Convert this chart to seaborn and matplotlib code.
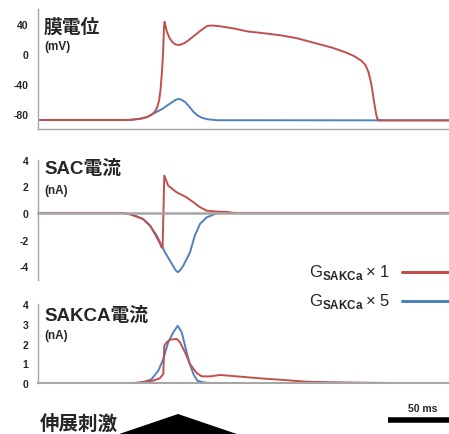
import numpy as np
import pandas as pd
import matplotlib
matplotlib.use('Agg')
import matplotlib.pyplot as plt
import seaborn as sns

## Dados (tempo em ms)

# Potencial de membrana (mV)
vm_t_1 = [0, 60, 66, 70, 74, 78, 81, 83, 85, 86.5, 87.5, 88.5, 89.3, 90, 90.4, 91, 92, 94, 96, 98,
          100, 102, 105, 108, 112, 116, 119, 121, 124, 130, 140, 150, 160, 173, 185, 201, 210, 220,
          226, 231, 234, 236, 237.5, 238.5, 239.5, 240.5, 241.5, 242.5, 244, 300]
vm_v_1 = [-88, -88, -87.8, -87, -86, -84, -81, -78, -72, -62, -48, -25, 0, 35, 43, 38, 30, 21, 16, 13,
          12, 12.5, 15, 19, 25, 31, 35, 37.5, 38, 37, 34, 30, 28, 25, 21, 13, 8.5, 2,
          -3, -9, -15, -24, -35, -45, -57, -69, -80, -87, -88.5, -88.5]
vm_t_5 = [0, 60, 66, 70, 74, 78, 81, 82, 85, 89, 92, 96, 98, 100, 102, 105, 108, 111, 114, 117, 121, 128, 300]
vm_v_5 = [-88, -88, -87.8, -87, -86, -84, -81, -80, -77, -73, -69, -64, -61.5, -60, -60.5, -64, -70, -77, -82,
          -85, -87, -88.3, -88.5]

# Corrente SAC (nA)
sac_t_1 = [0, 60, 65.7, 70, 75, 80, 83.6, 86.7, 88.3, 89, 89.6, 90.2, 93, 99, 106, 111, 115.7, 120.5,
           127.6, 134.8, 140, 300]
sac_v_1 = [0, 0, -0.1, -0.25, -0.45, -0.95, -1.6, -2.2, -2.6, -2.6, 0, 2.8, 2.05, 1.55, 1.18, 0.8, 0.43,
           0.17, 0.1, 0.08, 0, 0]
sac_t_5 = [0, 60, 65.7, 70, 75, 80, 84.8, 90.7, 95.5, 98, 99.8, 101.5, 103.8, 108.6, 112, 115.7, 120.5,
           127.6, 135, 300]
sac_v_5 = [0, 0, -0.1, -0.25, -0.45, -0.95, -1.7, -2.95, -3.8, -4.25, -4.45, -4.3, -3.95, -2.95, -1.7,
           -0.83, -0.33, -0.03, 0, 0]

# Corrente SAKCA (nA)
sakca_t_1 = [0, 65, 70.5, 82, 87, 89.5, 90.2, 92, 94.3, 99, 101.4, 105, 108.6, 113.3, 117, 123, 130, 142,
             158.6, 175, 192, 199, 220, 246, 300]
sakca_v_1 = [0, 0, 0.03, 0.13, 0.25, 0.47, 1.9, 2.07, 2.2, 2.24, 2.07, 1.57, 0.97, 0.52, 0.35, 0.35, 0.42,
             0.35, 0.25, 0.17, 0.08, 0.07, 0.04, 0.02, 0]
sakca_t_5 = [0, 70, 75, 81, 86, 89.5, 93, 96.7, 99.8, 102.6, 105, 108, 111, 113.8, 118, 125, 300]
sakca_v_5 = [0, 0, 0.05, 0.2, 0.64, 1.23, 2.07, 2.58, 2.9, 2.58, 1.9, 1.06, 0.47, 0.13, 0.05, 0, 0]

# Estímulo (triângulo) e barra de escala
stim_t = [58, 100, 142]
stim_v = [0, 1, 0]
bar_t = [250, 300]
bar_label = '50 ms'

xticks = [0, 50, 100, 150, 200, 250]
legend_labels = ['\u2009× 1', '\u2009× 5']

red = '#c0504d'
blue = '#4f81bd'
gray = '#a6a6a6'

sns.set_style('white')
plt.rcParams['font.family'] = ['Liberation Sans', 'Noto Sans CJK JP']
plt.rcParams['mathtext.fontset'] = 'custom'
plt.rcParams['mathtext.rm'] = 'Liberation Sans'
plt.rcParams['mathtext.bf'] = 'Liberation Sans:bold'

W, H = 449, 435
fig = plt.figure(figsize=(W / 100, H / 100), dpi=100)

def px_axes(left, top, right, bottom):
    return fig.add_axes([left / W, 1 - bottom / H, (right - left) / W, (bottom - top) / H])

xmax = (W - 38) / 1.4

def style(ax, ylim, major, minor):
    ax.set_xlim(0, xmax)
    ax.set_ylim(*ylim)
    ax.set_xticks(xticks)
    ax.set_xticklabels([])
    ax.set_yticks(major)
    ax.set_yticks(minor, minor=True)
    ax.set_yticklabels([str(v) for v in major], fontsize=7.5, fontweight='bold')
    for s in ['top', 'right']:
        ax.spines[s].set_visible(False)
    for s in ['left', 'bottom']:
        ax.spines[s].set_color(gray)
        ax.spines[s].set_linewidth(1.0)
    ax.tick_params(axis='y', which='both', length=3, color=gray, width=0.8, pad=4)
    ax.tick_params(axis='x', length=3, color=gray, width=0.8)
    ax.set_xlabel('')
    ax.set_ylabel('')

## Painel 1 - Potencial de membrana
ax1 = px_axes(38, 10, W, 130)
sns.lineplot(x=vm_t_5, y=vm_v_5, ax=ax1, color=blue, lw=1.4, estimator=None)
sns.lineplot(x=vm_t_1, y=vm_v_1, ax=ax1, color=red, lw=1.4, estimator=None)
style(ax1, (-100, 60), [-80, -40, 0, 40], [-100, -60, -20, 20, 60])

## Painel 2 - Corrente SAC
ax2 = px_axes(38, 160.6, W, 280.6)
ax2.spines['bottom'].set_position(('data', 0))
sns.lineplot(x=sac_t_5, y=sac_v_5, ax=ax2, color=blue, lw=1.4, estimator=None)
sns.lineplot(x=sac_t_1, y=sac_v_1, ax=ax2, color=red, lw=1.4, estimator=None)
style(ax2, (-5, 4), [-4, -2, 0, 2, 4], [-5, -3, -1, 1, 3])
ax2.spines['bottom'].set_linewidth(1.8)

## Painel 3 - Corrente SAKCA
ax3 = px_axes(38, 305, W, 384.3)
sns.lineplot(x=sakca_t_5, y=sakca_v_5, ax=ax3, color=blue, lw=1.4, estimator=None)
sns.lineplot(x=sakca_t_1, y=sakca_v_1, ax=ax3, color=red, lw=1.4, estimator=None)
style(ax3, (0, 4), [0, 1, 2, 3, 4], [])
ax3.spines['bottom'].set_linewidth(1.5)

## Estímulo
ax4 = px_axes(38, 400, W, H)
ax4.set_xlim(0, xmax)
ax4.set_ylim(0, 1.75)
ax4.fill(stim_t, stim_v, color='black', lw=0)
ax4.plot(bar_t, [0.725, 0.725], color='black', lw=4, solid_capstyle='butt')
ax4.text(sum(bar_t) / 2, 1.32, bar_label, ha='center', va='center', fontsize=7.5, fontweight='bold')
ax4.axis('off')

## Títulos
def ftext(x, y, s, **kw):
    fig.text(x / W, 1 - y / H, s, va='center', ha='left', fontweight='bold', **kw)

ftext(44, 27, '膜電位', fontsize=13.5)
ftext(44, 47, '(mV)', fontsize=8.5)
ftext(44, 169, 'SAC電流', fontsize=13.5)
ftext(44, 191, '(nA)', fontsize=8.5)
ftext(44, 316, 'SAKCA電流', fontsize=13.5)
ftext(44, 336, '(nA)', fontsize=8.5)
ftext(40, 424, '伸展刺激', fontsize=14)

## Legenda
for y, lab, c in [(272.7, legend_labels[0], red), (301.7, legend_labels[1], blue)]:
    fig.text(309 / W, 1 - y / H, r'G$_{\mathbf{SAKCa}}$' + lab, va='center', ha='left', fontsize=12,
             family=['Liberation Sans', 'DejaVu Sans'])
    fig.add_artist(plt.Line2D([402 / W, 1.0], [1 - y / H, 1 - y / H], color=c, lw=2.2,
                              transform=fig.transFigure))

fig.savefig('out.png', dpi=100)
